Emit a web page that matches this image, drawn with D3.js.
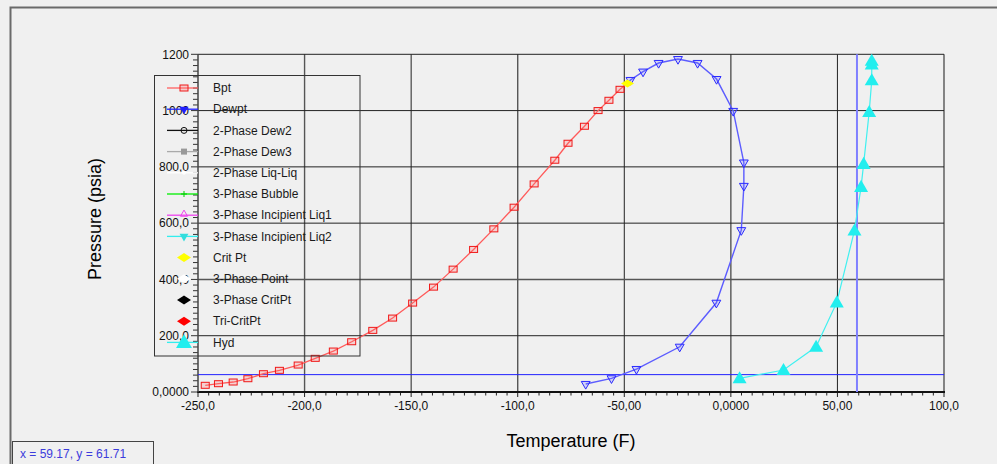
<!DOCTYPE html>
<html>
<head>
<meta charset="utf-8">
<script src="https://cdn.jsdelivr.net/npm/d3@7/dist/d3.min.js"></script>
<style>
html,body{margin:0;padding:0;background:#f0f0f0;}
svg{display:block;font-family:"Liberation Sans",Arial,sans-serif;}
</style>
</head>
<body>
<script>
// ---- data ----
const bptT = [-246.6,-240.4,-233.5,-226.6,-219.3,-211.8,-203.0,-195.0,-186.5,-177.9,-168.0,-158.7,-149.3,-139.5,-130.3,-120.7,-111.2,-101.7,-92.3,-82.6,-76.4,-68.7,-62.3,-57.2,-52.0];
const bptP = [23.8,29.5,35.5,47.2,65.0,77.0,95.8,119.6,145.5,178.6,219,262.7,316,372.7,436.6,506.6,579.7,656.7,739.4,823.6,883.9,944.3,1000,1036.6,1075.6];
const dewT = [-47.1,-41.2,-33.9,-24.8,-15.6,-6.7,1.1,6.1,6.1,4.9,-6.8,-24.0,-44.3,-56.0,-68.1];
const dewP = [1108.6,1138.4,1169,1183,1169,1112,998.6,815.4,732.3,575,317,160.8,81.6,48.6,28.4];
const hydT = [4.1,24.7,40.0,49.7,58.0,61.1,62.3,64.9,66.1,66.1,66.1];
const hydP = [48.6,78.1,160.8,318.4,574,728.8,810.4,995,1107.6,1164,1177];
const critT = [-48.5];
const critP = [1095.8];
const cursorX = 59.17, cursorY = 61.71;
const xTicks = [-250,-200,-150,-100,-50,0,50,100];
const xTickLabels = ["-250,0","-200,0","-150,0","-100,0","-50,00","0,0000","50,00","100,0"];
const yTicks = [0,200,400,600,800,1000,1200];
const yTickLabels = ["0,0000","200,0","400,0","600,0","800,0","1000","1200"];
const legendNames = ["Bpt","Dewpt","2-Phase Dew2","2-Phase Dew3","2-Phase Liq-Liq","3-Phase Bubble","3-Phase Incipient Liq1","3-Phase Incipient Liq2","Crit Pt","3-Phase Point","3-Phase CritPt","Tri-CritPt","Hyd"];

// ---- layout ----
const W = 997, H = 464;
const svg = d3.select("body").append("svg").attr("width", W).attr("height", H);
const x = d3.scaleLinear().domain([-250,100]).range([198,944]);
const y = d3.scaleLinear().domain([0,1200]).range([392,54.3]);

svg.append("rect").attr("width",W).attr("height",H).attr("fill","#f0f0f0");
// outer frame
svg.append("path").attr("d",`M10.5,${H} L10.5,7.5 L${W},7.5`).attr("fill","none").attr("stroke","#6a6a6a").attr("stroke-width",2);

const g = svg.append("g");
// grid
g.selectAll(".vg").data(xTicks.slice(1)).join("line")
  .attr("x1",d=>x(d)).attr("x2",d=>x(d)).attr("y1",y(0)).attr("y2",y(1200))
  .attr("stroke",(d,i)=> i%2===0 ? "#555" : "#222").attr("stroke-width",(d,i)=> i%2===0 ? 1.4 : 1);
g.selectAll(".hg").data(yTicks.slice(1)).join("line")
  .attr("x1",x(-250)).attr("x2",x(100)).attr("y1",d=>y(d)).attr("y2",d=>y(d))
  .attr("stroke",(d,i)=> i===1 ? "#555" : "#222").attr("stroke-width",(d,i)=> i===1 ? 1.4 : 1);

// x axis
const xMinor = d3.range(-250,100.1,5);
g.selectAll(".xm").data(xMinor).join("line")
  .attr("x1",d=>x(d)).attr("x2",d=>x(d)).attr("y1",y(0)).attr("y2",d=> (d%50===0)? y(0)+5 : y(0)+3.5)
  .attr("stroke","#222").attr("stroke-width",1);
g.append("line").attr("x1",x(-250)-1).attr("x2",x(100)+1).attr("y1",y(0)).attr("y2",y(0)).attr("stroke","#111").attr("stroke-width",2);
g.selectAll(".xl").data(xTicks).join("text")
  .attr("x",d=>x(d)).attr("y",y(0)+18).attr("text-anchor","middle")
  .attr("font-size",12).attr("fill","#111").text((d,i)=>xTickLabels[i]);

// y axis
const yMinor = d3.range(0,1200.1,20);
g.selectAll(".ym").data(yMinor).join("line")
  .attr("x1",x(-250)).attr("x2",d=> (d%200===0)? x(-250)-7 : x(-250)-5).attr("y1",d=>y(d)).attr("y2",d=>y(d))
  .attr("stroke","#333").attr("stroke-width",1);
g.append("line").attr("x1",x(-250)).attr("x2",x(-250)).attr("y1",y(0)).attr("y2",y(1200)).attr("stroke","#444").attr("stroke-width",1.5);
g.selectAll(".yl").data(yTicks).join("text")
  .attr("x",x(-250)-9).attr("y",d=>y(d)).attr("dy","0.35em").attr("text-anchor","end")
  .attr("font-size",12).attr("fill","#111").text((d,i)=>yTickLabels[i]);

// axis titles
svg.append("text").attr("x",571).attr("y",447).attr("text-anchor","middle").attr("font-size",18).attr("fill","#000").text("Temperature (F)");
svg.append("text").attr("transform","translate(101,219) rotate(-90)").attr("text-anchor","middle").attr("font-size",18).attr("fill","#000").text("Pressure (psia)");

// cursor lines
g.append("line").attr("x1",x(-250)).attr("x2",x(100)).attr("y1",y(cursorY)).attr("y2",y(cursorY)).attr("stroke","#2020ff").attr("stroke-width",1);
g.append("line").attr("x1",x(cursorX)).attr("x2",x(cursorX)).attr("y1",y(0)).attr("y2",y(1200)).attr("stroke","#8080ff").attr("stroke-width",2);

const line = d3.line().x(d=>x(d[0])).y(d=>y(d[1]));
const bpt = bptT.map((t,i)=>[t,bptP[i]]);
const dew = dewT.map((t,i)=>[t,dewP[i]]);
const hyd = hydT.map((t,i)=>[t,hydP[i]]);
const crit = critT.map((t,i)=>[t,critP[i]]);

// bubble point
g.append("path").datum(bpt.concat(crit)).attr("d",line).attr("fill","none").attr("stroke","#ff5a5a").attr("stroke-width",1.3);
g.selectAll(".bp").data(bpt).join("rect")
  .attr("x",d=>x(d[0])-4).attr("y",d=>y(d[1])-3).attr("width",8).attr("height",6)
  .attr("fill","rgba(255,120,120,0.25)").attr("stroke","#f01818").attr("stroke-width",1);

// dew point
const tri = d3.symbol().type(d3.symbolTriangle).size(34);
g.append("path").datum(crit.concat(dew)).attr("d",line).attr("fill","none").attr("stroke","#5c5cff").attr("stroke-width",1.4);
g.selectAll(".dp").data(dew).join("path")
  .attr("d",tri).attr("transform",d=>`translate(${x(d[0])},${y(d[1])}) rotate(180)`)
  .attr("fill","rgba(120,120,255,0.25)").attr("stroke","#2a2aff").attr("stroke-width",1);

// hydrate
g.append("path").datum(hyd).attr("d",line).attr("fill","none").attr("stroke","#40f0f0").attr("stroke-width",1.2);
const bigTri = d3.symbol().type(d3.symbolTriangle).size(85);
g.selectAll(".hp").data(hyd).join("path")
  .attr("d",bigTri).attr("transform",d=>`translate(${x(d[0])},${y(d[1])+1})`)
  .attr("fill","#22eeee");

// crit pt
const diamond = (cx,cy,w,h)=>`M${cx-w/2},${cy} L${cx},${cy-h/2} L${cx+w/2},${cy} L${cx},${cy+h/2} Z`;
g.selectAll(".cp").data(crit).join("path")
  .attr("d",d=>diamond(x(d[0]),y(d[1]),13,8)).attr("fill","#ffff00");

// legend
const lg = svg.append("g");
lg.append("rect").attr("x",154.5).attr("y",75.5).attr("width",205.5).attr("height",280.5)
  .attr("fill","none").attr("stroke","#333").attr("stroke-width",1);
const rowY = i => 88 + i*21.2;
const lx1 = 167, lx2 = 198, mx = 184;
const lineCols = ["#ff6060","#2020ff","#111","#aaa","#fff","#00ee00","#ee44ee","#33eeee",null,null,null,null,"#33eeee"];
lineCols.forEach((c,i)=>{
  if(c) lg.append("line").attr("x1",lx1).attr("x2",lx2).attr("y1",rowY(i)).attr("y2",rowY(i)).attr("stroke",c).attr("stroke-width",1.3);
});
// markers
lg.append("rect").attr("x",mx-4).attr("y",rowY(0)-3).attr("width",8).attr("height",6).attr("fill","rgba(255,120,120,0.3)").attr("stroke","#f01818");
lg.append("path").attr("d",tri).attr("transform",`translate(${mx},${rowY(1)}) rotate(180)`).attr("fill","#2020ff");
lg.append("circle").attr("cx",mx).attr("cy",rowY(2)).attr("r",3).attr("fill","none").attr("stroke","#111");
lg.append("rect").attr("x",mx-3).attr("y",rowY(3)-3).attr("width",6).attr("height",6).attr("fill","#999");
lg.append("circle").attr("cx",mx).attr("cy",rowY(4)).attr("r",2).attr("fill","#fff");
lg.append("path").attr("d",`M${mx-3},${rowY(5)} L${mx+3},${rowY(5)} M${mx},${rowY(5)-3} L${mx},${rowY(5)+3}`).attr("stroke","#00cc00");
lg.append("path").attr("d",d3.symbol().type(d3.symbolTriangle).size(22)).attr("transform",`translate(${mx},${rowY(6)-1})`).attr("fill","none").attr("stroke","#ee44ee");
lg.append("path").attr("d",tri).attr("transform",`translate(${mx},${rowY(7)}) rotate(180)`).attr("fill","#33dddd");
const dCols = ["#ffff00","#ffffff","#000000","#ff0000"];
dCols.forEach((c,k)=>{
  lg.append("path").attr("d",diamond(mx,rowY(8+k),14,9)).attr("fill",c);
});
lg.append("path").attr("d",d3.symbol().type(d3.symbolTriangle).size(110)).attr("transform",`translate(${mx},${rowY(12)+1})`).attr("fill","#22eeee");
lg.selectAll(".lt").data(legendNames).join("text")
  .attr("x",213).attr("y",(d,i)=>rowY(i)).attr("dy","0.35em")
  .attr("font-size",12).attr("fill","#1a1a1a").text(d=>d);

// status box
svg.append("rect").attr("x",12.5).attr("y",441.5).attr("width",141).attr("height",30).attr("fill","#f0f0f0").attr("stroke","#444");
svg.append("text").attr("x",20).attr("y",454).attr("dy","0.35em").attr("font-size",12).attr("fill","#3c3cdc").text(`x = ${cursorX}, y = ${cursorY}`);
</script>
</body>
</html>
